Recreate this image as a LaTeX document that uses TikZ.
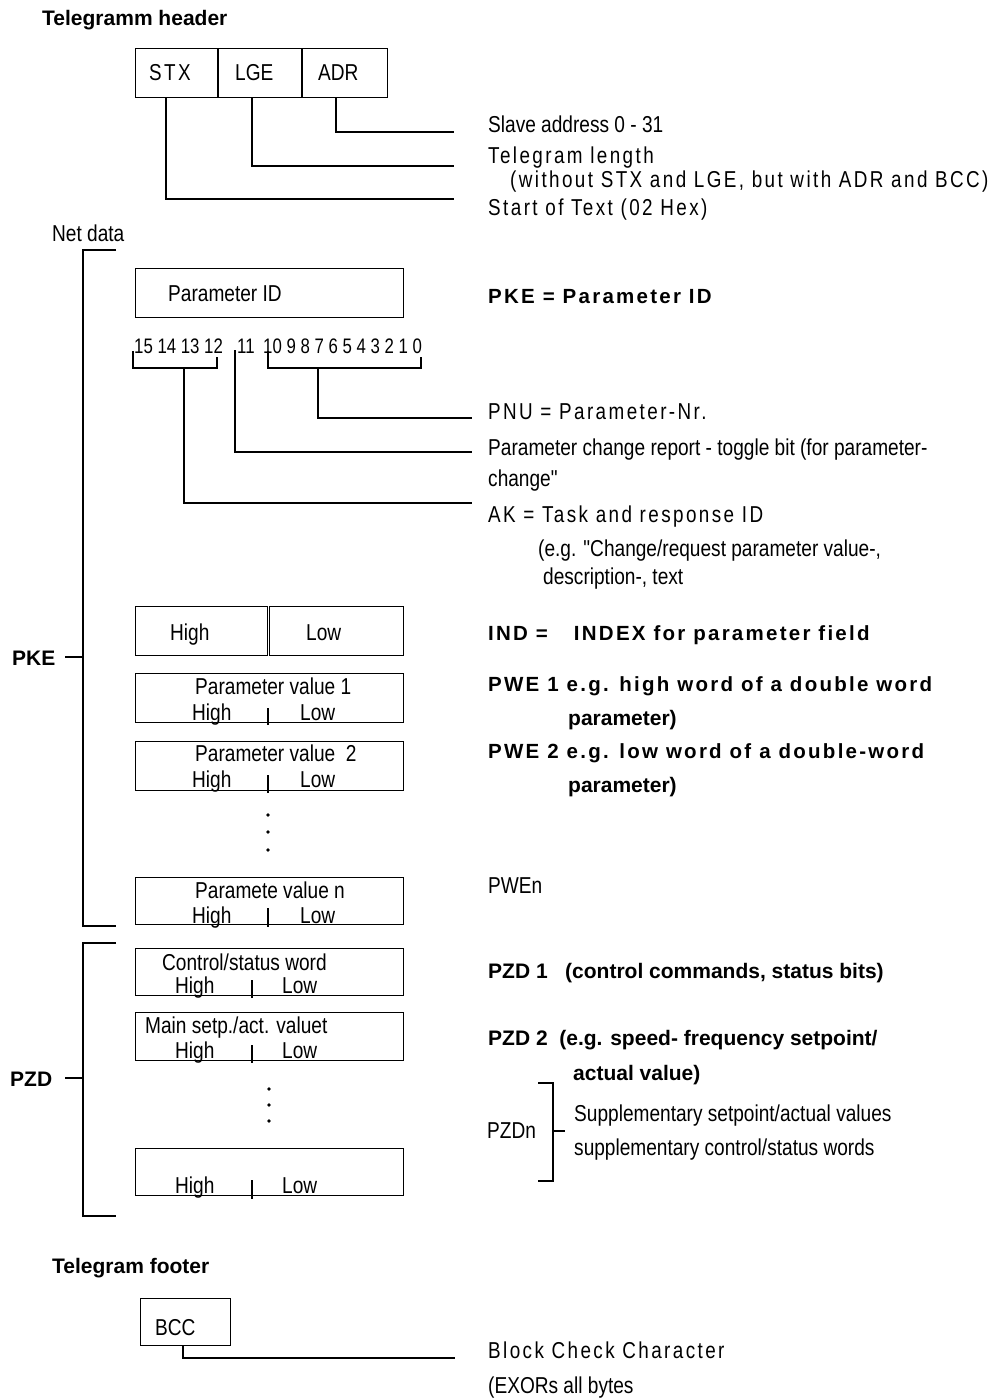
\documentclass[tikz,border=0pt]{standalone}
\usepackage{fontspec}
\setmainfont{Liberation Sans}
\newfontfamily\nar{Liberation Sans}[FakeStretch=0.83]
\newfontfamily\narb{Liberation Sans}[FakeStretch=0.8]
\newfontfamily\narsp{Liberation Sans}[FakeStretch=0.82,LetterSpace=10.5]
\newfontfamily\bsp{Liberation Sans}[LetterSpace=11]
\newcommand\fN{\nar\fontsize{23}{26}\selectfont}
\newcommand\fSm{\narb\fontsize{21}{24}\selectfont}
\newcommand\fS{\narsp\fontsize{23}{26}\selectfont}
\newcommand\fB{\bsp\bfseries\fontsize{20.5}{24}\selectfont}
\newcommand\fBn{\rmfamily\bfseries\fontsize{21}{24}\selectfont}
\begin{document}
\begin{tikzpicture}[x=1pt,y=-1pt,
  box/.style={draw, line width=1.2pt, inner sep=0, anchor=north west},
  ln/.style={line width=1.4pt},
  t/.style={anchor=base west, inner sep=0, font=\fN},
  tsp/.style={t, font=\fS},
  tsm/.style={t, font=\fSm},
  tb/.style={t, font=\fB},
  tbn/.style={t, font=\fBn}]
\useasboundingbox[fill=white] (0,0) rectangle (1003,1399);

% ---------- header ----------
\node[tbn] (hdr) at (42,26) {Telegramm header};
\node[box, minimum width=82, minimum height=49] (stx) at (135,48) {};
\node[box, minimum width=83, minimum height=49] (lge) at (218,48) {};
\node[box, minimum width=85, minimum height=49] (adr) at (302,48) {};
\node[tsp] (stxt) at (149,81) {STX};
\node[t] (lget) at (235,81) {LGE};
\node[t] (adrt) at (318,81) {ADR};

\node[t] (slave) at (488,133) {Slave address 0 - 31};
\node[tsp] (tlen) at (488,164) {Telegram length};
\node[tsp] (tlen2) at (510,188) {(without STX and LGE, but with ADR and BCC)};
\node[tsp] (sot) at (488,215) {Start of Text (02 Hex)};
\coordinate (e1) at (454,132);
\coordinate (e2) at (454,166);
\coordinate (e3) at (454,199);
\draw[ln] (adr.south -| 336,0) |- (e1);
\draw[ln] (lge.south -| 252,0) |- (e2);
\draw[ln] (stx.south -| 166,0) |- (e3);

% ---------- net data / PKE ----------
\node[t] (net) at (52,241) {Net data};
\draw[ln] (116,250) -- (83,250) -- (83,926) -- (116,926);
\node[tbn] (pke) at (12,665) {PKE};
\coordinate (pkeb) at (83,657);
\draw[ln] (65,657) -- (pkeb);

\node[box, minimum width=268, minimum height=49] (pid) at (135,268) {};
\node[t] (pidt) at (168,301) {Parameter ID};
\node[tb] (pkeeq) at (488,303) {PKE = Parameter ID};

\node[tsm] (b1) at (134,353) {15 14 13 12};
\node[tsm] (b2) at (237,353) {11};
\node[tsm] (b3) at (263,353) {10 9 8 7 6 5 4 3 2 1 0};
\coordinate (bkA) at (184,368);
\coordinate (bkB) at (235,350);
\coordinate (bkC) at (318,368);
\draw[ln] (133,351) -- (133,368) -- (217,368) -- (217,357);
\draw[ln] (268,351) -- (268,368) -- (421,368) -- (421,357);

\node[tsp] (pnu) at (488,419) {PNU = Parameter-Nr.};
\node[t] (pcr) at (488,455) {Parameter change report - toggle bit (for parameter-};
\node[t] (pcr2) at (488,486) {change"};
\node[tsp] (ak) at (488,522) {AK = Task and response ID};
\node[t] (ak2) at (538,556) {(e.g. "Change/request parameter value-,};
\node[t] (ak3) at (543,584) {description-, text};
\coordinate (f1) at (472,418);
\coordinate (f2) at (472,452);
\coordinate (f3) at (472,503);
\draw[ln] (bkC) |- (f1);
\draw[ln] (bkB) |- (f2);
\draw[ln] (bkA) |- (f3);

% IND
\node[box, minimum width=132, minimum height=49] (indh) at (135,606) {};
\node[box, minimum width=134, minimum height=49] (indl) at (269,606) {};
\node[t] (indht) at (170,640) {High};
\node[t] (indlt) at (306,640) {Low};
\node[tb] (ind) at (488,640) {IND =\hspace{26pt}INDEX for parameter field};

% PWE 1
\node[box, minimum width=268, minimum height=49] (pv1) at (135,673) {};
\node[t] (pv1t) at (195,694) {Parameter value 1};
\node[t] (pv1h) at (192,720) {High};
\node[t] (pv1l) at (300,720) {Low};
\draw[ln] (268,708) -- (268,725);
\node[tb] (pwe1) at (488,691) {PWE 1 e.g. high word of a double word};
\node[tbn] (pwe1b) at (568,725) {parameter)};

% PWE 2
\node[box, minimum width=268, minimum height=49] (pv2) at (135,741) {};
\node[t] (pv2t) at (195,761) {Parameter value\ \ 2};
\node[t] (pv2h) at (192,787) {High};
\node[t] (pv2l) at (300,787) {Low};
\draw[ln] (268,775) -- (268,793);
\node[tb] (pwe2) at (488,758) {PWE 2 e.g. low word of a double-word};
\node[tbn] (pwe2b) at (568,792) {parameter)};

\foreach \yy in {815,832,850} \fill (268,\yy) circle (1.8);

% PWE n
\node[box, minimum width=268, minimum height=47] (pvn) at (135,877) {};
\node[t] (pvnt) at (195,898) {Paramete value n};
\node[t] (pvnh) at (192,923) {High};
\node[t] (pvnl) at (300,923) {Low};
\draw[ln] (268,908) -- (268,927);
\node[t] (pwen) at (488,893) {PWEn};

% ---------- PZD ----------
\draw[ln] (116,943) -- (83,943) -- (83,1216) -- (116,1216);
\node[tbn] (pzd) at (10,1086) {PZD};
\coordinate (pzdb) at (83,1078);
\draw[ln] (65,1078) -- (pzdb);

\node[box, minimum width=268, minimum height=47] (cs) at (135,948) {};
\node[t] (cst) at (162,970) {Control/status word};
\node[t] (csh) at (175,993) {High};
\node[t] (csl) at (282,993) {Low};
\draw[ln] (252,980) -- (252,998);
\node[tbn] (pzd1) at (488,978) {PZD 1\ \ \ (control commands, status bits)};

\node[box, minimum width=268, minimum height=48] (ms) at (135,1012) {};
\node[t] (mst) at (145,1033) {Main setp./act. valuet};
\node[t] (msh) at (175,1058) {High};
\node[t] (msl) at (282,1058) {Low};
\draw[ln] (252,1045) -- (252,1063);
\node[tbn] (pzd2) at (488,1045) {PZD 2\ \ (e.g. speed- frequency setpoint/};
\node[tbn] (pzd2b) at (573,1080) {actual value)};

\foreach \yy in {1089,1105,1121} \fill (269,\yy) circle (1.8);

\node[box, minimum width=268, minimum height=47] (lb) at (135,1148) {};
\node[t] (lbh) at (175,1193) {High};
\node[t] (lbl) at (282,1193) {Low};
\draw[ln] (252,1180) -- (252,1199);

\node[t] (pzdn) at (487,1138) {PZDn};
\draw[ln] (538,1083) -- (553,1083) -- (553,1181) -- (538,1181);
\coordinate (pzdnb) at (565,1131);
\draw[ln] (553,1131) -- (pzdnb);
\node[t] (sup1) at (574,1121) {Supplementary setpoint/actual values};
\node[t] (sup2) at (574,1155) {supplementary control/status words};

% ---------- footer ----------
\node[tbn] (ftr) at (52,1273) {Telegram footer};
\node[box, minimum width=90, minimum height=47] (bcc) at (140,1298) {};
\node[t] (bcct) at (155,1335) {BCC};
\coordinate (g1) at (455,1358);
\draw[ln] (bcc.south -| 183,0) |- (g1);
\node[tsp] (bcc1) at (488,1358) {Block Check Character};
\node[t] (bcc2) at (488,1393) {(EXORs all bytes};
\end{tikzpicture}
\end{document}
